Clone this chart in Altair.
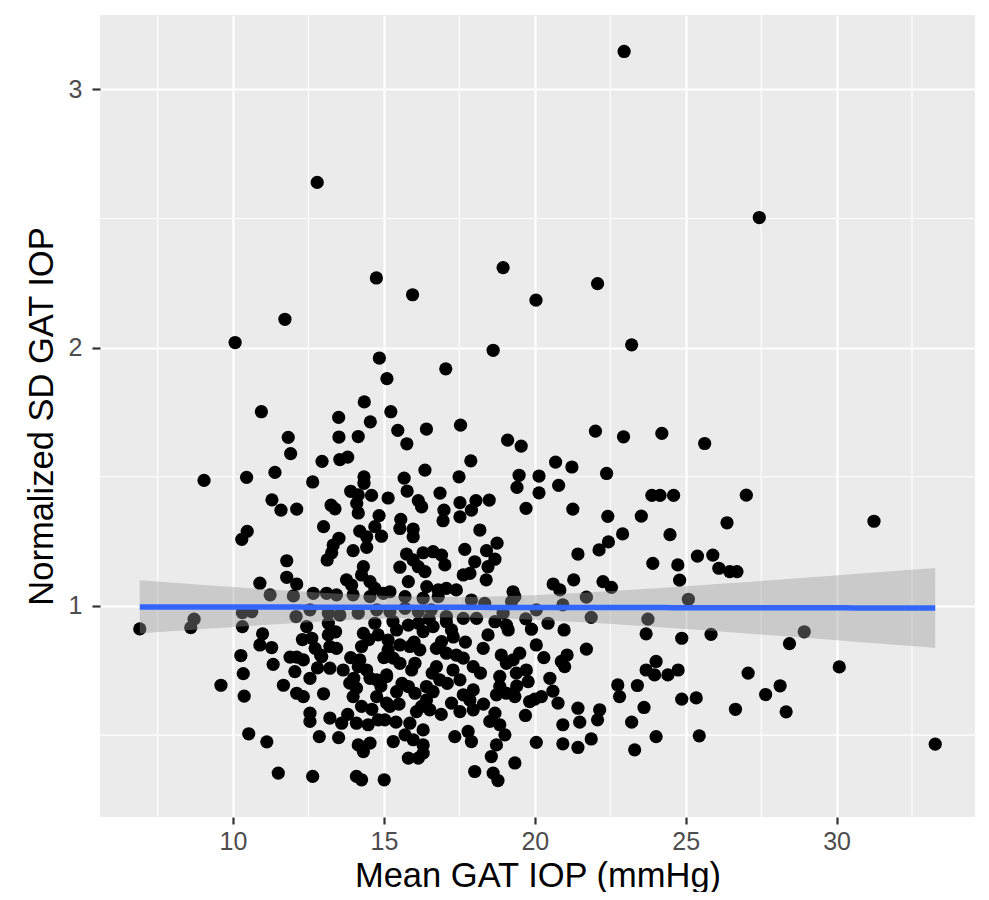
import altair as alt
import numpy as np
import pandas as pd

# Mean GAT IOP (mmHg) -> x ; Normalized SD GAT IOP -> y
iop_top = [22.96, 12.79, 27.44, 14.75, 18.95, 15.95, 22.08, 20.04, 11.72, 10.07, 23.21, 18.62, 14.85, 15.1, 17.05]
sd_top = [3.147, 2.64, 2.504, 2.27, 2.31, 2.205, 2.248, 2.184, 2.11, 2.02, 2.011, 1.99, 1.96, 1.88, 1.918]

iop_b = [14.35, 13.5, 14.55, 15.23, 13.51, 14.15, 15.46, 15.76, 16.41, 17.54,
         12.95, 13.54, 13.8, 17.88, 16.36, 17.49, 12.64, 14.34,
         14.34, 15.67, 13.9, 14.15, 14.59, 15.14, 15.77, 16.14, 16.25, 16.86,
         13.25, 13.38, 14.1, 14.15, 16.99, 16.96, 17.52, 17.52, 17.9,
         18.05, 18.49, 14.84, 15.56, 15.53, 15.97, 15.97, 13.0, 14.2, 14.43,
         14.7, 14.92, 14.43, 13.51, 13.32, 13.27, 13.12, 13.98, 15.75,
         15.97, 16.3, 16.63, 16.91, 17.68]
sd_b = [1.79, 1.73, 1.713, 1.752, 1.654, 1.656, 1.68, 1.628, 1.685, 1.70,
        1.56, 1.567, 1.576, 1.562, 1.526, 1.50, 1.48, 1.50,
        1.475, 1.495, 1.444, 1.43, 1.428, 1.418, 1.445, 1.408, 1.384, 1.437,
        1.39, 1.376, 1.397, 1.36, 1.371, 1.33, 1.40, 1.345, 1.371,
        1.408, 1.41, 1.35, 1.335, 1.30, 1.298, 1.268, 1.307, 1.29, 1.268,
        1.307, 1.27, 1.227, 1.262, 1.236, 1.206, 1.178, 1.214, 1.201,
        1.178, 1.206, 1.21, 1.197, 1.219]

iop_c = [10.94, 11.83, 11.91, 9.04, 10.45, 11.39, 11.29, 11.59, 12.11, 10.47, 10.29, 11.78]
sd_c = [1.752, 1.653, 1.59, 1.486, 1.498, 1.517, 1.411, 1.371, 1.375, 1.289, 1.258, 1.175]

iop_d = [19.1, 19.55, 22.01, 22.94, 24.21, 20.69, 21.23, 19.48, 19.41, 20.14,
         20.14, 20.79, 22.38, 19.71, 21.26, 23.88, 24.15, 24.6, 22.42, 23.53,
         24.48, 22.91, 22.44, 22.13, 21.43, 18.18, 18.75, 18.4, 18.68]
sd_d = [1.642, 1.619, 1.677, 1.655, 1.668, 1.557, 1.538, 1.506, 1.459, 1.503,
        1.438, 1.467, 1.513, 1.378, 1.375, 1.428, 1.428, 1.428, 1.347, 1.348,
        1.276, 1.279, 1.248, 1.217, 1.201, 1.294, 1.243, 1.214, 1.181]

iop_e = [25.63, 27.01, 26.37, 31.24, 25.39, 25.9]
sd_e = [1.629, 1.429, 1.322, 1.328, 1.193, 1.197]

iop_f = [26.1, 26.46, 26.7, 24.8, 25.09, 24.87, 25.84, 28.93, 28.44, 30.09,
         24.75, 27.07, 28.13, 27.65, 24.87, 25.35, 26.65, 28.33, 25.45, 33.27]
sd_f = [1.146, 1.133, 1.133, 1.10, 1.026, 0.875, 0.89, 0.90, 0.854, 0.764,
        0.752, 0.74, 0.691, 0.657, 0.639, 0.644, 0.60, 0.59, 0.497, 0.465]

iop_g = [6.91, 8.71, 8.6, 10.31, 10.62, 10.31, 10.89, 11.23, 11.78, 12.11,
         12.0, 12.09, 10.98, 10.89, 11.28, 10.26, 11.33, 11.89, 12.11, 12.05,
         10.34, 9.6, 10.37, 11.67, 10.52, 11.12, 11.5]
sd_g = [0.911, 0.949, 0.916, 0.974, 0.978, 0.92, 1.088, 1.043, 1.111, 1.085,
        1.039, 0.959, 0.892, 0.849, 0.839, 0.808, 0.774, 0.802, 0.802, 0.746,
        0.738, 0.693, 0.651, 0.693, 0.505, 0.474, 0.353]

iop_h = [14.32, 14.26, 13.76, 13.93, 14.54, 14.7, 15.53, 15.81, 16.14, 16.36,
         16.42, 17.02, 17.63, 17.85, 18.01, 16.8, 17.07, 17.4, 15.2,
         12.66, 13.1, 13.43, 13.98, 14.54, 14.98, 15.7, 16.3, 16.8, 17.9,
         12.55, 13.16, 13.54, 14.15, 14.76, 15.2, 15.7, 16.14, 16.57, 17.07,
         17.63, 18.07, 12.44, 12.61, 12.72, 13.16, 13.16, 13.21, 13.43, 12.94,
         12.9, 12.33, 12.55, 12.11, 12.33, 13.21, 13.65, 12.55, 12.55, 13.21,
         13.6, 12.86, 12.64, 14.7, 14.32, 14.26, 14.2, 14.15, 14.43, 14.54,
         14.76, 15.09, 14.81, 15.14, 15.42, 15.53, 15.14, 15.31, 15.53, 15.81,
         16.14, 16.3, 16.63, 17.07, 17.24, 15.86, 16.19, 16.74, 16.91, 17.07,
         17.4, 17.63, 17.96, 16.03, 15.92, 16.74, 17.29, 17.52, 15.42, 15.09,
         13.87, 14.09, 15.81, 16.03, 16.41, 16.63, 16.41, 16.85, 13.98, 14.26,
         14.76, 15.09, 15.2, 16.25, 16.08, 15.86, 16.52, 17.24, 17.52, 17.85,
         17.96, 17.63, 17.96, 14.09, 14.48, 14.81, 15.03, 15.31, 15.7, 15.97,
         16.3, 15.81, 16.14, 16.3, 14.15, 14.54, 14.32, 17.35, 17.79, 17.9,
         14.09, 14.26, 15.01, 18.01]
sd_h = [1.152, 1.12, 1.101, 1.081, 1.094, 1.068, 1.15, 1.094, 1.152, 1.133,
        1.075, 1.159, 1.12, 1.126, 1.171, 1.062, 1.068, 1.062, 1.055,
        1.049, 1.049, 1.043, 1.043, 1.036, 1.049, 1.036, 1.03, 1.036, 1.023,
        0.985, 0.972, 0.965, 0.972, 0.985, 0.978, 0.991, 0.978, 0.985, 0.959,
        0.952, 0.952, 0.92, 0.875, 0.836, 0.933, 0.888, 0.843, 0.836, 0.804,
        0.81, 0.791, 0.72, 0.662, 0.649, 0.759, 0.752, 0.585, 0.553, 0.566,
        0.546, 0.494, 0.34, 0.933, 0.894, 0.843, 0.791, 0.765, 0.752, 0.72,
        0.714, 0.727, 0.888, 0.868, 0.907, 0.849, 0.83, 0.798, 0.778, 0.926,
        0.933, 0.901, 0.92, 0.939, 0.907, 0.843, 0.83, 0.836, 0.862, 0.817,
        0.81, 0.798, 0.765, 0.778, 0.752, 0.765, 0.752, 0.714, 0.668, 0.733,
        0.701, 0.682, 0.688, 0.662, 0.688, 0.668, 0.636, 0.714, 0.649, 0.611,
        0.649, 0.624, 0.611, 0.611, 0.591, 0.546, 0.598, 0.624, 0.591, 0.636,
        0.598, 0.656, 0.675, 0.546, 0.54, 0.559, 0.559, 0.475, 0.501, 0.482,
        0.462, 0.411, 0.411, 0.43, 0.462, 0.469, 0.436, 0.494, 0.514, 0.475,
        0.34, 0.327, 0.327, 0.359]

iop_i = [18.45, 18.39, 19.28, 19.34, 20.61, 20.83, 21.29, 22.26, 22.54, 21.71,
         23.91, 24.74, 18.34, 18.95, 19.23, 20.05, 20.93, 21.87, 23.75, 18.68,
         19.06, 19.12, 18.45, 18.29, 19.89, 20.44, 20.97, 20.05, 23.69, 21.71,
         18.89, 19.06, 19.5, 19.28, 20.88, 21.07, 20.99, 19.39, 19.72, 19.78,
         18.84, 18.84, 20.5, 23.69, 24.02, 23.97, 24.41, 18.73, 19.06, 19.34,
         19.83, 20.22, 20.0, 20.77, 22.75, 22.81, 23.4, 23.62, 21.43, 21.49,
         22.15, 22.08, 19.69, 20.93, 18.68, 18.51, 18.84, 19.01, 18.73, 18.56,
         19.34, 18.62, 18.78, 20.05, 20.93, 21.43, 21.87, 23.21, 24.02, 23.31]
sd_i = [1.152, 1.101, 1.055, 1.036, 1.085, 1.062, 1.101, 1.094, 1.072, 1.034,
        1.165, 1.159, 1.01, 0.972, 1.017, 0.985, 1.004, 0.956, 0.949, 0.939,
        0.926, 0.907, 0.888, 0.836, 0.91, 0.933, 0.907, 0.849, 0.892, 0.833,
        0.81, 0.778, 0.817, 0.791, 0.785, 0.81, 0.765, 0.74, 0.752, 0.707,
        0.727, 0.688, 0.72, 0.752, 0.785, 0.733, 0.733, 0.656, 0.662, 0.649,
        0.63, 0.649, 0.639, 0.624, 0.694, 0.649, 0.692, 0.607, 0.604, 0.55,
        0.598, 0.559, 0.576, 0.54, 0.585, 0.553, 0.54, 0.501, 0.462, 0.417,
        0.392, 0.353, 0.324, 0.472, 0.466, 0.452, 0.485, 0.55, 0.494, 0.443]

# points hidden inside the densest overlapping blobs (estimated)
iop_dense = [14.5, 13.9, 14.0, 15.6, 16.6, 17.1, 16.0, 15.0, 13.4, 12.8,
             13.0, 14.6, 15.5, 16.9, 17.7, 18.2, 19.4, 20.3, 19.7, 15.3,
             16.5, 13.8, 12.3, 17.3, 18.3, 20.6, 14.9, 16.3, 13.5, 15.4]
sd_dense = [0.87, 0.80, 0.72, 0.70, 0.74, 0.70, 0.86, 0.80, 0.90, 0.76,
            0.66, 0.60, 0.62, 0.58, 0.86, 0.74, 0.69, 0.80, 0.95, 0.94,
            0.95, 0.58, 0.87, 0.88, 0.62, 0.67, 0.69, 0.52, 0.49, 0.55]

x_ticks = [10, 15, 20, 25, 30]
x_minor = [7.5, 12.5, 17.5, 22.5, 27.5, 32.5]
y_ticks = [1, 2, 3]
y_minor = [0.5, 1.5, 2.5]

groups = [(iop_top, sd_top), (iop_b, sd_b), (iop_c, sd_c), (iop_d, sd_d), (iop_e, sd_e),
          (iop_f, sd_f), (iop_g, sd_g), (iop_h, sd_h), (iop_i, sd_i), (iop_dense, sd_dense)]
for gx, gy in groups:
    assert len(gx) == len(gy), (len(gx), len(gy))
x = np.array([v for g in groups for v in g[0]])
y = np.array([v for g in groups for v in g[1]])
pts = pd.DataFrame({"x": x, "y": y})

# linear fit with 95% confidence band (as geom_smooth(method = "lm"))
n = len(x)
xb = x.mean()
sxx = ((x - xb) ** 2).sum()
slope = ((x - xb) * (y - y.mean())).sum() / sxx
icpt = y.mean() - slope * xb
s = np.sqrt(((y - (icpt + slope * x)) ** 2).sum() / (n - 2))
T975 = 1.966
gx = np.linspace(x.min(), x.max(), 80)
fit = icpt + slope * gx
se = s * np.sqrt(1.0 / n + (gx - xb) ** 2 / sxx)
band = pd.DataFrame({"x": gx, "fit": fit, "lo": fit - T975 * se, "hi": fit + T975 * se})

xr = x.max() - x.min()
yr = y.max() - y.min()
xdom = [x.min() - 0.05 * xr, x.max() + 0.05 * xr]
ydom = [y.min() - 0.05 * yr, y.max() + 0.05 * yr]

FONT = "Liberation Sans"
xscale = alt.Scale(domain=xdom, nice=False, zero=False)
yscale = alt.Scale(domain=ydom, nice=False, zero=False)
xaxis = alt.Axis(values=x_ticks, grid=True, gridColor="white", gridWidth=2.2, domain=False,
                 tickColor="#333333", tickWidth=2.2, tickSize=7, labelFontSize=25,
                 labelColor="#4D4D4D", labelFont=FONT, labelPadding=5, titleFontSize=34.5,
                 titleFont=FONT, titleColor="black", titleFontWeight="normal", titlePadding=5)
yaxis = alt.Axis(values=y_ticks, grid=True, gridColor="white", gridWidth=2.2, domain=False,
                 tickColor="#333333", tickWidth=2.2, tickSize=8, labelFontSize=25,
                 labelColor="#4D4D4D", labelFont=FONT, labelPadding=10, titleFontSize=34.5,
                 titleFont=FONT, titleColor="black", titleFontWeight="normal", titlePadding=9)
XT = "Mean GAT IOP (mmHg)"
YT = "Normalized SD GAT IOP"

minor_x = alt.Chart(pd.DataFrame({"x": x_minor})).mark_rule(color="white", strokeWidth=1.1).encode(
    x=alt.X("x:Q", scale=xscale, axis=xaxis, title=XT))
minor_y = alt.Chart(pd.DataFrame({"y": y_minor})).mark_rule(color="white", strokeWidth=1.1).encode(
    y=alt.Y("y:Q", scale=yscale, axis=yaxis, title=YT))
points = alt.Chart(pts).mark_circle(size=175, color="black", opacity=1).encode(
    x=alt.X("x:Q", scale=xscale, axis=xaxis, title=XT),
    y=alt.Y("y:Q", scale=yscale, axis=yaxis, title=YT))
ribbon = alt.Chart(band).mark_area(color="#999999", opacity=0.4).encode(
    x=alt.X("x:Q", scale=xscale, axis=xaxis, title=XT),
    y=alt.Y("lo:Q", scale=yscale, axis=yaxis, title=YT),
    y2="hi:Q")
line = alt.Chart(band).mark_line(color="#3366FF", strokeWidth=5.5).encode(
    x=alt.X("x:Q", scale=xscale, axis=xaxis, title=XT),
    y=alt.Y("fit:Q", scale=yscale, axis=yaxis, title=YT))

chart = alt.layer(minor_x, minor_y, points, ribbon, line).properties(
    width=875, height=802,
    autosize=alt.AutoSizeParams(type="none"),
    padding={"left": 92, "top": 7, "right": 6, "bottom": 75},
    background="white",
).configure_view(fill="#EBEBEB", strokeWidth=0)

chart.save("out.html", embed_options={"renderer": "svg", "actions": False})
